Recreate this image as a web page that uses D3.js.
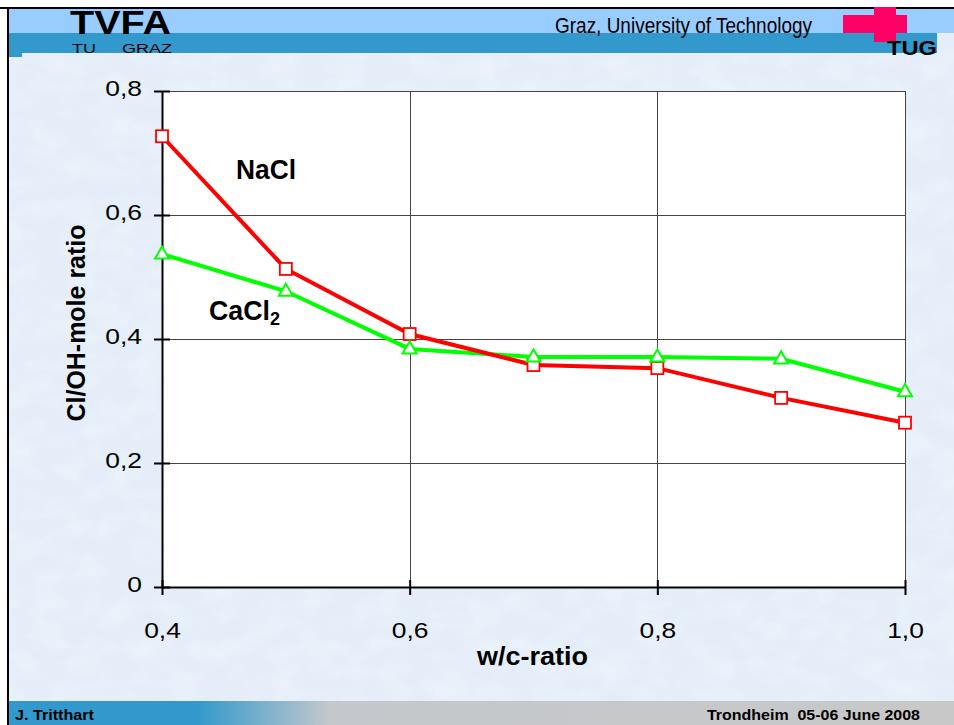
<!DOCTYPE html>
<html>
<head>
<meta charset="utf-8">
<script src="https://cdn.jsdelivr.net/npm/d3@7"></script>
<style>
  body { margin: 0; background: #fff; }
  svg { display: block; font-family: "Liberation Sans", Arial, sans-serif; }
</style>
</head>
<body>
<div id="chart"></div>
<script>
// data
var wcRatio = [0.4, 0.5, 0.6, 0.7, 0.8, 0.9, 1.0];
var naclValues = [0.727, 0.513, 0.408, 0.358, 0.353, 0.305, 0.265];
var cacl2Values = [0.537, 0.477, 0.384, 0.371, 0.371, 0.368, 0.315];
var xTicks = [0.4, 0.6, 0.8, 1.0];
var yTicks = [0, 0.2, 0.4, 0.6, 0.8];

var W = 954, H = 725;
var plot = {left: 162, right: 905, top: 91, bottom: 587};

var svg = d3.select("#chart").append("svg")
    .attr("width", W).attr("height", H);

var defs = svg.append("defs");

// mottled background
var f = defs.append("filter").attr("id", "mottle").attr("x", 0).attr("y", 0).attr("width", 1).attr("height", 1);
f.append("feTurbulence").attr("type", "fractalNoise").attr("baseFrequency", "0.03 0.05").attr("numOctaves", 3).attr("seed", 4).attr("result", "n");
f.append("feColorMatrix").attr("in", "n").attr("type", "matrix")
    .attr("values", "0 0 0 0 0.86  0 0 0 0 0.91  0 0 0 0 0.97  0 0 0 -1.1 0.75");

var grad = defs.append("linearGradient").attr("id", "footgrad");
grad.append("stop").attr("offset", "0").attr("stop-color", "#3399cc");
grad.append("stop").attr("offset", "0.2").attr("stop-color", "#3399cc");
grad.append("stop").attr("offset", "0.34").attr("stop-color", "#c4c8cc");
grad.append("stop").attr("offset", "1").attr("stop-color", "#c8c8c8");

// slide background
svg.append("rect").attr("x", 0).attr("y", 0).attr("width", W).attr("height", H).attr("fill", "#fff");
svg.append("rect").attr("x", 9).attr("y", 8).attr("width", W - 9).attr("height", H - 8).attr("fill", "#e4edf8");
svg.append("rect").attr("x", 9).attr("y", 8).attr("width", W - 9).attr("height", H - 8)
    .attr("fill", "#fff").attr("filter", "url(#mottle)");

// header bands
svg.append("rect").attr("x", 9).attr("y", 9).attr("width", W - 9).attr("height", 24).attr("fill", "#99ccff");
svg.append("rect").attr("x", 9).attr("y", 33).attr("width", 928).attr("height", 20).attr("fill", "#3399cc");
svg.append("rect").attr("x", 9).attr("y", 53).attr("width", 13).attr("height", 4).attr("fill", "#3399cc");

// frame lines
svg.append("line").attr("x1", 0).attr("x2", W).attr("y1", 8).attr("y2", 8).attr("stroke", "#000").attr("stroke-width", 2);
svg.append("line").attr("x1", 8).attr("x2", 8).attr("y1", 7).attr("y2", H).attr("stroke", "#000").attr("stroke-width", 2);

// TVFA logo
svg.append("text").attr("x", 70).attr("y", 34).attr("font-size", 33).attr("font-weight", "bold")
    .attr("textLength", 101).attr("lengthAdjust", "spacingAndGlyphs").attr("fill", "#000").text("TVFA");
svg.append("text").attr("x", 72).attr("y", 52.5).attr("font-size", 12)
    .attr("textLength", 24).attr("lengthAdjust", "spacingAndGlyphs").text("TU");
svg.append("text").attr("x", 122).attr("y", 52.5).attr("font-size", 12)
    .attr("textLength", 50).attr("lengthAdjust", "spacingAndGlyphs").text("GRAZ");

svg.append("text").attr("x", 555).attr("y", 33).attr("font-size", 22)
    .attr("textLength", 257).attr("lengthAdjust", "spacingAndGlyphs").attr("fill", "#000")
    .text("Graz, University of Technology");

// TUG logo
svg.append("rect").attr("x", 843).attr("y", 15).attr("width", 64).attr("height", 18).attr("fill", "#ff0066");
svg.append("rect").attr("x", 874).attr("y", 7).attr("width", 22).attr("height", 35).attr("fill", "#ff0066");
svg.append("text").attr("x", 887).attr("y", 55).attr("font-size", 21).attr("font-weight", "bold")
    .attr("textLength", 50).attr("lengthAdjust", "spacingAndGlyphs").attr("fill", "#000").text("TUG");

// footer
svg.append("rect").attr("x", 9).attr("y", 701).attr("width", W - 9).attr("height", 24).attr("fill", "url(#footgrad)");
svg.append("text").attr("x", 15).attr("y", 720).attr("font-size", 14).attr("font-weight", "bold")
    .attr("textLength", 79).attr("lengthAdjust", "spacingAndGlyphs").text("J. Tritthart");
svg.append("text").attr("x", 707).attr("y", 720).attr("font-size", 14).attr("font-weight", "bold")
    .attr("xml:space", "preserve")
    .attr("textLength", 213).attr("lengthAdjust", "spacingAndGlyphs").text("Trondheim  05-06 June 2008");

// scales
var x = d3.scaleLinear().domain([0.4, 1.0]).range([plot.left, plot.right]);
var y = d3.scaleLinear().domain([0, 0.8]).range([plot.bottom, plot.top]);
var fmt = function(d) { return d === 0 ? "0" : d3.format(".1f")(d).replace(".", ","); };

// plot area
svg.append("rect").attr("x", plot.left).attr("y", plot.top)
    .attr("width", plot.right - plot.left).attr("height", plot.bottom - plot.top).attr("fill", "#fff");

// grid
svg.append("g").selectAll("line").data(yTicks.filter(function(d) { return d > 0; })).join("line")
    .attr("x1", plot.left).attr("x2", plot.right)
    .attr("y1", function(d) { return Math.round(y(d)) + 0.5; }).attr("y2", function(d) { return Math.round(y(d)) + 0.5; })
    .attr("stroke", "#444").attr("stroke-width", 1);
svg.append("g").selectAll("line").data(xTicks.filter(function(d) { return d > 0.4; })).join("line")
    .attr("x1", function(d) { return Math.round(x(d)) + 0.5; }).attr("x2", function(d) { return Math.round(x(d)) + 0.5; })
    .attr("y1", plot.top).attr("y2", plot.bottom)
    .attr("stroke", "#444").attr("stroke-width", 1);

// axes
var yAxis = svg.append("g").attr("transform", "translate(" + plot.left + ",0)")
    .call(d3.axisLeft(y).tickValues(yTicks).tickFormat(fmt).tickSizeInner(8).tickSizeOuter(0).tickPadding(12));
yAxis.selectAll(".tick line").attr("x2", 8).attr("x1", -8);
var xAxis = svg.append("g").attr("transform", "translate(0," + plot.bottom + ")")
    .call(d3.axisBottom(x).tickValues(xTicks).tickFormat(fmt).tickSizeInner(8).tickSizeOuter(0).tickPadding(27));
xAxis.selectAll(".tick line").attr("y1", -7).attr("y2", 8);
[xAxis, yAxis].forEach(function(a) {
  a.select(".domain").attr("stroke", "#000").attr("stroke-width", 2);
  a.selectAll(".tick line").attr("stroke", "#000").attr("stroke-width", 2);
  a.selectAll("text").attr("font-size", 22).attr("fill", "#000").attr("font-family", "Liberation Sans, Arial, sans-serif");
});
// the slide is stretched sideways, so widen the tick labels
yAxis.selectAll("text").attr("x", 0).attr("dy", "0.22em").attr("transform", "translate(-20,0) scale(1.2,1)");
xAxis.selectAll("text").attr("transform", "scale(1.2,1)");

// axis titles
svg.append("text").attr("transform", "translate(85,323) rotate(-90)").attr("text-anchor", "middle")
    .attr("font-size", 25).attr("font-weight", "bold")
    .attr("textLength", 197).attr("lengthAdjust", "spacingAndGlyphs").text("Cl/OH-mole ratio");
svg.append("text").attr("x", 477).attr("y", 665)
    .attr("font-size", 25).attr("font-weight", "bold")
    .attr("textLength", 111).attr("lengthAdjust", "spacingAndGlyphs").text("w/c-ratio");

// series
var line = d3.line().x(function(d) { return x(d[0]); }).y(function(d) { return y(d[1]); });
var nacl = wcRatio.map(function(d, i) { return [d, naclValues[i]]; });
var cacl2 = wcRatio.map(function(d, i) { return [d, cacl2Values[i]]; });

svg.append("path").datum(cacl2).attr("d", line).attr("fill", "none").attr("stroke", "#00ff00").attr("stroke-width", 4);
svg.append("path").datum(nacl).attr("d", line).attr("fill", "none").attr("stroke", "#ff0000").attr("stroke-width", 4);

svg.append("g").selectAll("rect").data(nacl).join("rect")
    .attr("x", function(d) { return x(d[0]) - 6; }).attr("y", function(d) { return y(d[1]) - 6; })
    .attr("width", 12).attr("height", 12).attr("fill", "#fff").attr("stroke", "#ff0000").attr("stroke-width", 1.8);

var tri = d3.symbol().type(d3.symbolTriangle).size(85);
svg.append("g").selectAll("path").data(cacl2).join("path")
    .attr("transform", function(d) { return "translate(" + x(d[0]) + "," + (y(d[1]) + 0.5) + ")"; })
    .attr("d", tri).attr("fill", "#fff").attr("stroke", "#00ff00").attr("stroke-width", 2);

// series labels
svg.append("text").attr("x", 236).attr("y", 179).attr("font-size", 27).attr("font-weight", "bold")
    .attr("textLength", 60).attr("lengthAdjust", "spacingAndGlyphs").text("NaCl");
var lab = svg.append("text").attr("x", 209).attr("y", 320).attr("font-size", 27).attr("font-weight", "bold");
lab.append("tspan").attr("textLength", 61).attr("lengthAdjust", "spacingAndGlyphs").text("CaCl");
lab.append("tspan").attr("font-size", 18).attr("dy", 5).text("2");
</script>
</body>
</html>
